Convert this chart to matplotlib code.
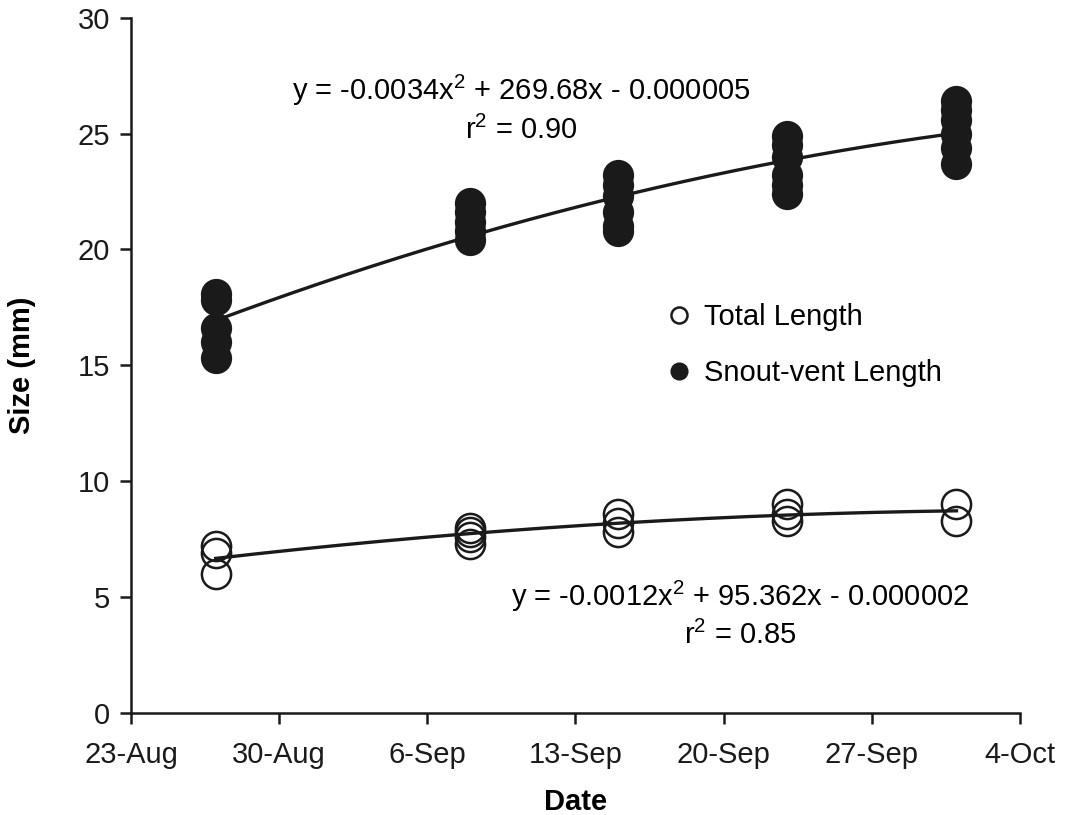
import datetime as dt
import numpy as np
import matplotlib
matplotlib.use("Agg")
import matplotlib.pyplot as plt
import matplotlib.dates as mdates
from matplotlib.ticker import FuncFormatter

plt.rcParams['font.family'] = ['Liberation Sans', 'DejaVu Sans']
plt.rcParams['mathtext.fontset'] = 'custom'
plt.rcParams['mathtext.rm'] = 'Liberation Sans'
plt.rcParams['mathtext.it'] = 'Liberation Sans'

# sampling dates
svl_dates = ['2005-08-27'] * 5 + ['2005-09-08'] * 5 + ['2005-09-15'] * 6 + ['2005-09-23'] * 6 + ['2005-10-01'] * 6
svl = [18.1, 17.8, 16.6, 16.0, 15.3,
       22.0, 21.6, 21.2, 20.8, 20.4,
       23.2, 22.8, 22.3, 21.6, 21.0, 20.8,
       24.9, 24.5, 24.0, 23.2, 22.8, 22.4,
       26.4, 26.0, 25.6, 25.0, 24.4, 23.7]

tl_dates = ['2005-08-27'] * 3 + ['2005-09-08'] * 4 + ['2005-09-15'] * 3 + ['2005-09-23'] * 3 + ['2005-10-01'] * 2
tl = [7.2, 6.9, 6.0,
      8.0, 7.8, 7.6, 7.3,
      8.6, 8.2, 7.8,
      9.0, 8.6, 8.3,
      9.0, 8.3]

eq_svl = "y = -0.0034x$^2$ + 269.68x - 0.000005"
r2_svl = "r$^2$ = 0.90"
eq_tl = "y = -0.0012x$^2$ + 95.362x - 0.000002"
r2_tl = "r$^2$ = 0.85"

svl_x = mdates.datestr2num(svl_dates)
tl_x = mdates.datestr2num(tl_dates)

fs = 21

fig = plt.figure(figsize=(10.68, 8.15), dpi=100)
ax = fig.add_axes([0.1227, 0.1252, 0.8323, 0.853])

# quadratic trend lines
for xs, ys in [(svl_x, svl), (tl_x, tl)]:
    c = np.polyfit(xs - xs.min(), ys, 2)
    xx = np.linspace(xs.min(), xs.max(), 200)
    ax.plot(xx, np.polyval(c, xx - xs.min()), color='#1a1a1a', lw=2.4, zorder=3)

ax.plot(tl_x, tl, 'o', ms=21, mfc='none', mec='#1a1a1a', mew=1.8, zorder=2,
        label='Total Length')
ax.plot(svl_x, svl, 'o', ms=21, mfc='#1a1a1a', mec='#1a1a1a', mew=1.5, zorder=2,
        label='Snout-vent Length')

ax.text(0.439, 0.895, eq_svl, transform=ax.transAxes, ha='center', va='center', fontsize=fs)
ax.text(0.439, 0.838, r2_svl, transform=ax.transAxes, ha='center', va='center', fontsize=fs)
ax.text(0.685, 0.168, eq_tl, transform=ax.transAxes, ha='center', va='center', fontsize=fs)
ax.text(0.685, 0.111, r2_tl, transform=ax.transAxes, ha='center', va='center', fontsize=fs)

leg = ax.legend(loc='upper left', bbox_to_anchor=(0.567, 0.627), frameon=False,
                fontsize=fs, markerscale=0.55, handletextpad=0.25, labelspacing=0.95,
                handlelength=1.2)

ax.set_xlim(mdates.datestr2num('2005-08-23'), mdates.datestr2num('2005-10-04'))
ax.set_ylim(0, 30)
ax.set_xticks([mdates.datestr2num('2005-08-23') + 7 * i for i in range(7)])
ax.xaxis.set_major_formatter(FuncFormatter(
    lambda v, p: f"{mdates.num2date(v).day}-{mdates.num2date(v).strftime('%b')}"))
ax.set_yticks(range(0, 31, 5))

for s in ['top', 'right']:
    ax.spines[s].set_visible(False)
for s in ['left', 'bottom']:
    ax.spines[s].set_linewidth(1.8)
    ax.spines[s].set_color('#1a1a1a')
ax.tick_params(direction='out', length=8, width=1.8, labelsize=fs, colors='#1a1a1a')
ax.tick_params(axis='x', pad=12)
ax.tick_params(axis='y', pad=7)

ax.set_xlabel('Date', fontsize=fs, fontweight='bold', labelpad=14)
ax.set_ylabel('Size (mm)', fontsize=fs, fontweight='bold', labelpad=30)

fig.savefig('out.png', dpi=100)
